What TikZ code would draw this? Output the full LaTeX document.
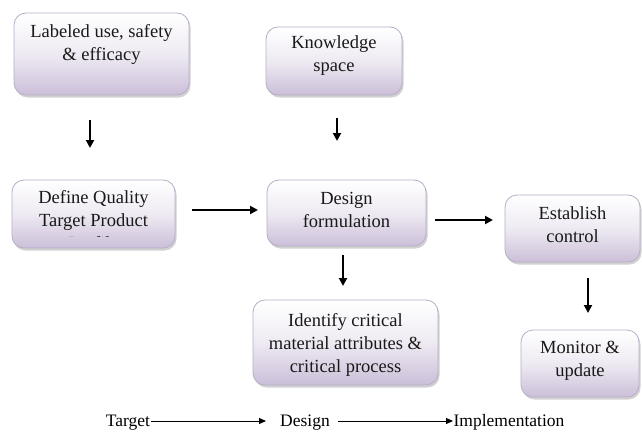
\documentclass[tikz,border=0pt]{standalone}
\usepackage{fontspec}
\setmainfont{Liberation Serif}
\usetikzlibrary{arrows.meta,shadows}
\definecolor{boxtop}{HTML}{FFFFFF}
\definecolor{boxmid}{HTML}{EEEAF2}
\definecolor{boxbot}{HTML}{CBBFD9}
\definecolor{boxline}{HTML}{B8ADC6}
\tikzset{
  box/.style={draw=boxline, line width=0.8pt, rounded corners=12pt,
    top color=boxtop, bottom color=boxbot, middle color=boxmid,
    drop shadow={shadow xshift=1.5pt, shadow yshift=-2.5pt, opacity=0.3, fill=black!60}},
  txt/.style={align=center, font=\fontsize{18.5}{23}\selectfont, inner sep=0pt, text=black!90},
  flow/.style={line width=1.9pt, -{Triangle[length=8pt,width=8pt]}},
  thin flow/.style={line width=1pt, -{Triangle[length=7pt,width=6pt]}},
  lbl/.style={font=\fontsize{17.5}{20}\selectfont, inner sep=0pt, anchor=base}
}
\begin{document}
\begin{tikzpicture}[x=1pt,y=-1pt]
\useasboundingbox (0,0) rectangle (642,431);
% boxes
\node[box, minimum width=175pt, minimum height=82pt] (lab) at (101.5,54) {};
\node[txt] (labt) at (101.5,44) {Labeled use, safety\\\& efficacy};
\node[box, minimum width=136pt, minimum height=68pt] (know) at (334,61) {};
\node[txt] (knowt) at (334,56) {Knowledge\\space};
\node[box, minimum width=163pt, minimum height=68pt] (dqt) at (93.5,214) {};
\begin{scope}
\clip (10,178) rectangle (177,236.5);
\node[txt] (dqtt) at (93.5,220) {Define Quality\\Target Product\\Profile};
\end{scope}
\node[box, minimum width=159pt, minimum height=66pt] (des) at (346.5,213) {};
\node[txt] (dest) at (346.5,210) {Design\\formulation};
\node[box, minimum width=135pt, minimum height=67pt] (est) at (572.5,228.5) {};
\node[txt] (estt) at (572.5,225) {Establish\\control};
\node[box, minimum width=185pt, minimum height=85pt] (ide) at (345.5,342.5) {};
\node[txt] (idet) at (345.5,345) {Identify critical\\material attributes \&\\critical process};
\node[box, minimum width=118pt, minimum height=67pt] (mon) at (580,363.5) {};
\node[txt] (mont) at (580,361) {Monitor \&\\update};
% arrow end points
\coordinate (a1s) at (90,120);  \coordinate (a1e) at (90,148);
\coordinate (a2s) at (337,118); \coordinate (a2e) at (337,141);
\coordinate (a3s) at (192,210); \coordinate (a3e) at (258,210);
\coordinate (a4s) at (435,220); \coordinate (a4e) at (493,220);
\coordinate (a5s) at (343,255); \coordinate (a5e) at (343,286);
\coordinate (a6s) at (588,278); \coordinate (a6e) at (588,313);
\draw[flow] (a1s) -- (a1e);
\draw[flow] (a2s) -- (a2e);
\draw[flow] (a3s) -- (a3e);
\draw[flow] (a4s) -- (a4e);
\draw[flow] (a5s) -- (a5e);
\draw[flow] (a6s) -- (a6e);
% bottom line
\node[lbl] (tg) at (128,426) {Target};
\node[lbl] (dg) at (305,426) {Design};
\node[lbl] (im) at (509,426) {Implementation};
\coordinate (b1s) at (151,421); \coordinate (b1e) at (266,421);
\coordinate (b2s) at (338,421); \coordinate (b2e) at (453,421);
\draw[thin flow] (b1s) -- (b1e);
\draw[thin flow] (b2s) -- (b2e);
\end{tikzpicture}
\end{document}
